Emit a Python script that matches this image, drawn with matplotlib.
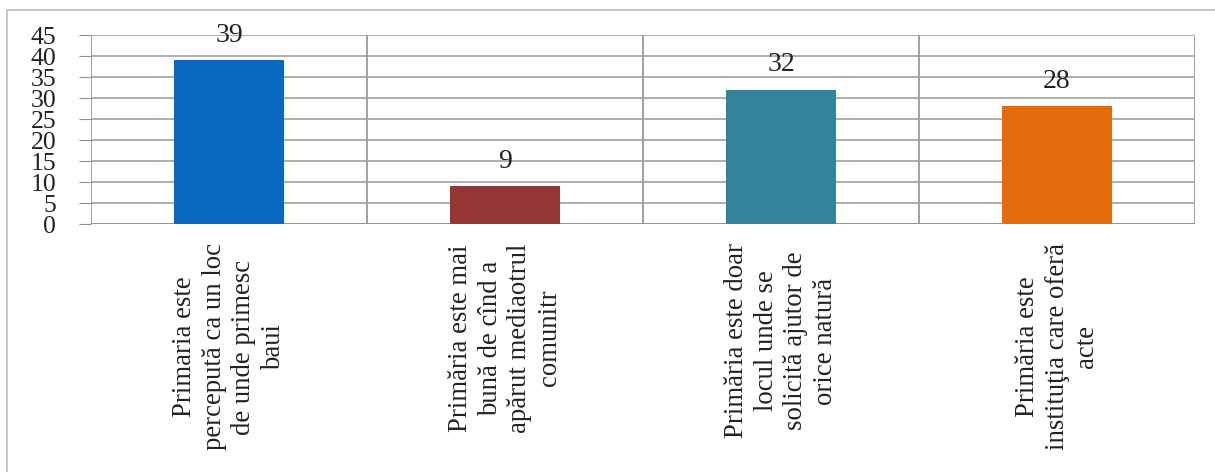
import matplotlib
matplotlib.use("Agg")
import matplotlib.pyplot as plt
from matplotlib.patches import Rectangle

# data
categories = [
    "Primaria este\npercepută ca un loc\nde unde primesc\nbaui",
    "Primăria este mai\nbună de cînd a\napărut mediaotrul\ncomunitr",
    "Primăria este doar\nlocul unde se\nsolicită ajutor de\norice natură",
    "Primăria este\ninstituţia care oferă\nacte",
]
values = [39, 9, 32, 28]
colors = ["#0868C2", "#963634", "#31849B", "#E46C0A"]
yticks = list(range(0, 50, 5))

plt.rcParams['font.family'] = ['Liberation Serif', 'DejaVu Serif']

fig = plt.figure(figsize=(12.15, 4.72), dpi=100)
# outer frame of the chart area
fig.patches.append(Rectangle((7 / 1215, -0.1), 1.2, (1 - 10 / 472) + 0.1,
                             transform=fig.transFigure, fill=False,
                             edgecolor="#c8c8c8", linewidth=1.5))

ax = fig.add_axes([91 / 1215, 1 - 224 / 472, (1195 - 91) / 1215, (224 - 35) / 472])
x = list(range(len(values)))
bars = ax.bar(x, values, width=0.4, color=colors, zorder=3)
for xi, v in zip(x, values):
    ax.text(xi, v + 6, str(v), ha="center", va="center", fontsize=20, color="#222222")

ax.set_xlim(-0.5, len(values) - 0.5)
ax.set_ylim(0, 45)
ax.set_yticks(yticks)
ax.set_yticklabels([str(t) for t in yticks], fontsize=18.5, color="#222222")
ax.yaxis.grid(True, color="#a0a0a0", linewidth=1.2, zorder=0)
# category separators
for b in [i - 0.5 for i in range(len(values) + 1)]:
    ax.axvline(b, color="#909090", linewidth=1.2, zorder=1)
ax.set_xticks(x)
ax.set_xticklabels(categories, rotation=90, fontsize=19.3, linespacing=1.25,
                   ha="center", va="top", multialignment="center", color="#222222")
ax.tick_params(axis="x", length=0, pad=14)
ax.tick_params(axis="y", length=9, color="#909090", pad=16)
for s in ax.spines.values():
    s.set_visible(False)
ax.axhline(0, color="#909090", linewidth=1.2, zorder=2)

fig.savefig("out.png", dpi=100)
